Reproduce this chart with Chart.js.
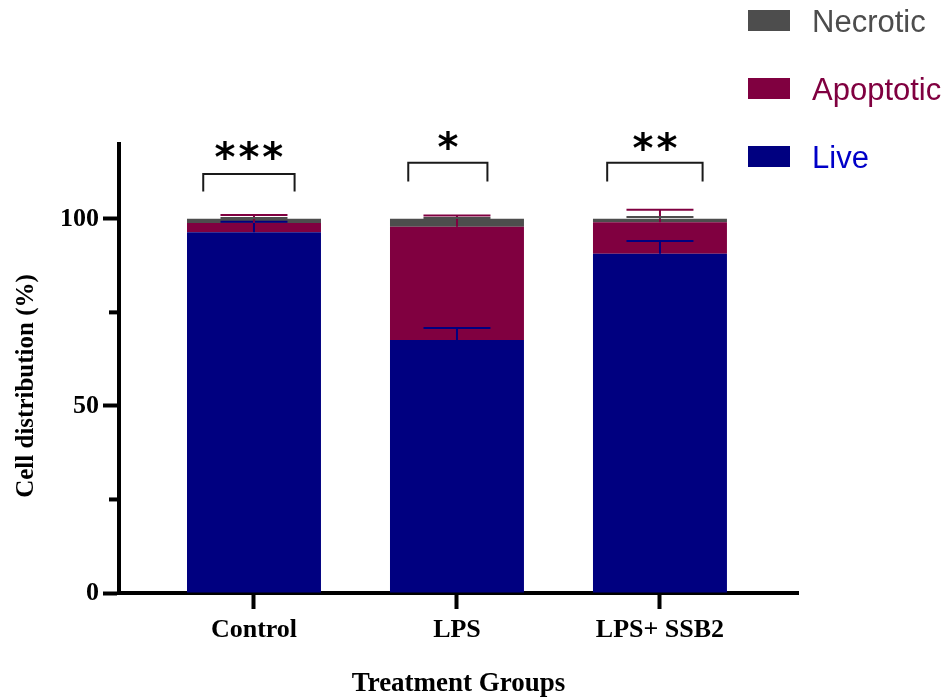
<!DOCTYPE html>
<html>
<head>
<meta charset="utf-8">
<script src="https://cdn.jsdelivr.net/npm/chart.js@4.4.0/dist/chart.umd.min.js"></script>
<style>
  html, body { margin: 0; padding: 0; background: #fff; }
</style>
</head>
<body>
<canvas id="cellChart" width="950" height="700"></canvas>
<script>
// values (% of cells)
const groups = ["Control", "LPS", "LPS+ SSB2"];
const live = [96.4, 67.6, 90.7];
const apoptotic = [2.5, 30.3, 8.4];
const necrotic = [1.1, 2.1, 0.9];
const liveSD = [2.8, 3.2, 3.4];
const apoptoticSD = [2.1, 3.0, 3.3];
const necroticSD = [0.2, 0.2, 0.5];
const significance = ["***", "*", "**"];
const yTicks = [0, 25, 50, 75, 100];

const serif = '"Liberation Serif", "Times New Roman", serif';
const sans = '"Liberation Sans", Arial, sans-serif';

function points(values) {
  return values.map((v, i) => ({ x: i, y: v }));
}

// error bars (upward only), drawn over the stacked segments
const errorBars = {
  id: "errorBars",
  afterDatasetsDraw(chart) {
    const ctx = chart.ctx;
    const y = chart.scales.y;
    ctx.save();
    ctx.lineWidth = 2;
    chart.data.datasets.forEach((ds, i) => {
      const meta = chart.getDatasetMeta(i);
      meta.data.forEach((bar, j) => {
        const sd = ds.sd[j];
        if (!sd) return;
        const top = bar.y;
        const cap = y.getPixelForValue(y.getValueForPixel(top) + sd);
        const half = bar.width / 4;
        ctx.strokeStyle = ds.errorColor;
        ctx.beginPath();
        ctx.moveTo(bar.x, top);
        ctx.lineTo(bar.x, cap);
        ctx.moveTo(bar.x - half, cap);
        ctx.lineTo(bar.x + half, cap);
        ctx.stroke();
      });
    });
    ctx.restore();
  }
};

// significance brackets + stars above each group
const sigMarks = {
  id: "sigMarks",
  afterDraw(chart, args, opts) {
    const ctx = chart.ctx;
    const x = chart.scales.x, y = chart.scales.y;
    ctx.save();
    ctx.strokeStyle = "#1a1a1a";
    ctx.lineWidth = 2;
    opts.brackets.forEach((b, i) => {
      const x1 = x.getPixelForValue(i + b.from);
      const x2 = x.getPixelForValue(i + b.to);
      const yt = y.getPixelForValue(b.top);
      const yb = y.getPixelForValue(b.bottom);
      ctx.beginPath();
      ctx.moveTo(x1, yb);
      ctx.lineTo(x1, yt);
      ctx.lineTo(x2, yt);
      ctx.lineTo(x2, yb);
      ctx.stroke();

      ctx.font = 'bold 40px "DejaVu Sans", sans-serif';
      ctx.letterSpacing = "3px";
      ctx.fillStyle = "#000";
      ctx.textAlign = "center";
      ctx.textBaseline = "alphabetic";
      const txt = significance[i];
      const m = ctx.measureText(txt);
      const cy = y.getPixelForValue(b.star);
      const base = cy + (m.actualBoundingBoxAscent - m.actualBoundingBoxDescent) / 2;
      ctx.fillText(txt, (x1 + x2) / 2 + 1.5, base);
    });
    ctx.restore();
  }
};

// shorter minor ticks on the y axis + rotated y title
const yExtras = {
  id: "yExtras",
  afterDraw(chart, args, opts) {
    const ctx = chart.ctx;
    const y = chart.scales.y;
    const left = chart.chartArea.left;
    ctx.save();
    ctx.fillStyle = "#000";
    yTicks.filter(v => v % 50 !== 0).forEach(v => {
      const py = y.getPixelForValue(v);
      ctx.fillRect(left - 10, py - 2, 10, 4);
    });
    ctx.translate(opts.titleX, opts.titleY);
    ctx.rotate(-Math.PI / 2);
    ctx.font = "bold 25px " + serif;
    ctx.textAlign = "center";
    ctx.textBaseline = "middle";
    ctx.fillText(opts.title, 0, 0);
    ctx.restore();
  }
};

// legend in the top right corner, text coloured like the series
const sideLegend = {
  id: "sideLegend",
  afterDraw(chart, args, opts) {
    const ctx = chart.ctx;
    ctx.save();
    ctx.font = "31px " + sans;
    ctx.textAlign = "left";
    ctx.textBaseline = "middle";
    const items = chart.data.datasets.slice().reverse();
    items.forEach((ds, k) => {
      const top = opts.y + k * opts.step;
      ctx.fillStyle = ds.backgroundColor;
      ctx.fillRect(opts.x, top, 42, 21);
      ctx.fillStyle = ds.labelColor;
      ctx.fillText(ds.label, opts.x + 64, top + 13);
    });
    ctx.restore();
  }
};

const ctx = document.getElementById("cellChart").getContext("2d");
const myChart = new Chart(ctx, {
  type: "bar",
  data: {
    datasets: [
      {
        label: "Live",
        data: points(live),
        sd: liveSD,
        backgroundColor: "#000080",
        errorColor: "#000080",
        labelColor: "#0000c8",
      },
      {
        label: "Apoptotic",
        data: points(apoptotic),
        sd: apoptoticSD,
        backgroundColor: "#800040",
        errorColor: "#800040",
        labelColor: "#800040",
      },
      {
        label: "Necrotic",
        data: points(necrotic),
        sd: necroticSD,
        backgroundColor: "#4d4d4d",
        errorColor: "#4d4d4d",
        labelColor: "#4d4d4d",
      },
    ],
  },
  options: {
    responsive: false,
    animation: false,
    borderWidth: 0,
    categoryPercentage: 1,
    barPercentage: 0.66,
    layout: { padding: { top: 144, right: 152, bottom: 0, left: 0 } },
    plugins: {
      legend: { display: false },
      tooltip: { enabled: false },
      sigMarks: {
        brackets: [
          { from: -0.25, to: 0.2, top: 112.0, bottom: 107.3, star: 118.4 },
          { from: -0.24, to: 0.15, top: 115.0, bottom: 110.0, star: 121.1 },
          { from: -0.26, to: 0.21, top: 115.0, bottom: 110.0, star: 120.9 },
        ],
      },
      yExtras: { title: "Cell distribution (%)", titleX: 27, titleY: 386 },
      sideLegend: { x: 748, y: 10, step: 68 },
    },
    scales: {
      x: {
        type: "linear",
        stacked: true,
        offset: false,
        min: -0.665,
        max: 2.68,
        afterBuildTicks: (scale) => {
          scale.ticks = groups.map((g, i) => ({ value: i }));
        },
        afterFit: (scale) => {
          scale.height = 107;
        },
        grid: {
          offset: false,
          drawOnChartArea: false,
          tickLength: 16,
          tickWidth: 4,
          tickColor: "#000",
        },
        border: { display: true, width: 4, color: "#000" },
        ticks: {
          autoSkip: false,
          maxRotation: 0,
          padding: 6,
          color: "#000",
          font: { family: serif, size: 26, weight: "bold" },
          callback: (v) => groups[v],
        },
        title: {
          display: true,
          text: "Treatment Groups",
          color: "#000",
          font: { family: serif, size: 27, weight: "bold" },
          padding: { top: 0, bottom: 0 },
        },
      },
      y: {
        stacked: true,
        min: 0,
        max: 120,
        afterBuildTicks: (scale) => {
          scale.ticks = yTicks.map((v) => ({ value: v }));
        },
        afterFit: (scale) => {
          scale.width = 119;
        },
        grid: {
          drawOnChartArea: false,
          tickLength: 16,
          tickWidth: 4,
          tickColor: (c) => (c.tick && c.tick.value % 50 === 0 ? "#000" : "rgba(0,0,0,0)"),
        },
        border: { display: true, width: 4, color: "#000" },
        ticks: {
          padding: 4,
          color: "#000",
          font: { family: serif, size: 26, weight: "bold" },
          callback: (v) => (v % 50 === 0 ? String(v) : ""),
        },
      },
    },
  },
  plugins: [errorBars, sigMarks, yExtras, sideLegend],
});
</script>
</body>
</html>
